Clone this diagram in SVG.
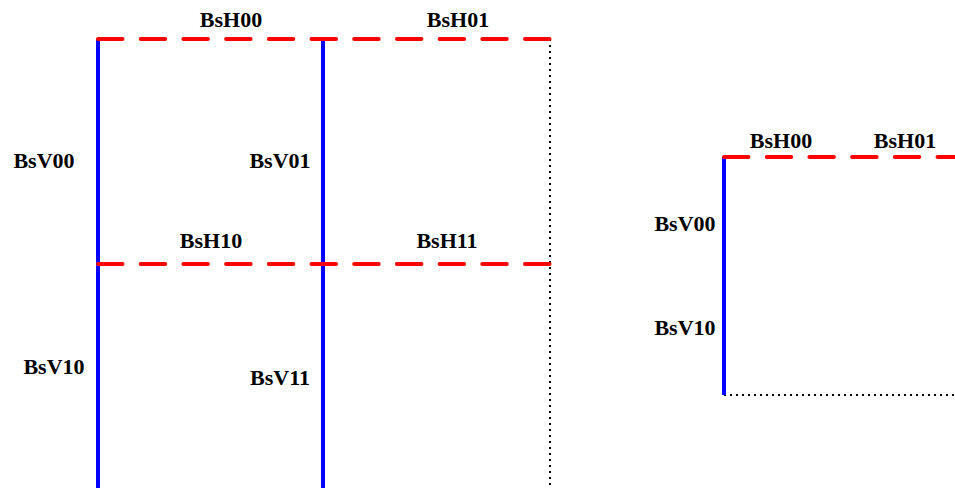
<svg xmlns="http://www.w3.org/2000/svg" width="955" height="488" viewBox="0 0 955 488">
<style>
.lbl{font-family:"Liberation Serif","Times New Roman",serif;font-weight:bold;font-size:22px;fill:#000}
.v{stroke:#0000ff;stroke-width:4;fill:none}
.h{stroke:#ff0000;stroke-width:4;fill:none;stroke-dasharray:24.5 18.2;stroke-linecap:round}
.d{stroke:#000;stroke-width:2;fill:none;stroke-dasharray:2 4}
</style>
<rect width="955" height="488" fill="#fff"/>
<g id="connectors">
<g id="left">
<line class="d" x1="550" y1="39" x2="550" y2="488"/>
<line class="v" x1="98" y1="39" x2="98" y2="488"/>
<line class="v" x1="323" y1="39" x2="323" y2="488"/>
<line class="h" x1="98" y1="39" x2="550" y2="39"/>
<line class="h" x1="98" y1="264" x2="550" y2="264"/>
</g>
<g id="right">
<line class="d" x1="724" y1="395" x2="955" y2="395"/>
<line class="v" x1="724" y1="157" x2="724" y2="395"/>
<line class="h" x1="724" y1="157" x2="960" y2="157"/>
</g>
</g>
<g id="labels-left">
<text class="lbl" x="231" y="27" text-anchor="middle">BsH00</text>
<text class="lbl" x="458" y="27" text-anchor="middle">BsH01</text>
<text class="lbl" x="211" y="248" text-anchor="middle">BsH10</text>
<text class="lbl" x="447" y="248" text-anchor="middle">BsH11</text>
<text class="lbl" x="44" y="168" text-anchor="middle">BsV00</text>
<text class="lbl" x="280" y="168" text-anchor="middle">BsV01</text>
<text class="lbl" x="54" y="374" text-anchor="middle">BsV10</text>
<text class="lbl" x="280" y="385" text-anchor="middle">BsV11</text>
</g>
<g id="labels-right">
<text class="lbl" x="781" y="148" text-anchor="middle">BsH00</text>
<text class="lbl" x="905" y="148" text-anchor="middle">BsH01</text>
<text class="lbl" x="685" y="231" text-anchor="middle">BsV00</text>
<text class="lbl" x="685" y="335" text-anchor="middle">BsV10</text>
</g>
</svg>
